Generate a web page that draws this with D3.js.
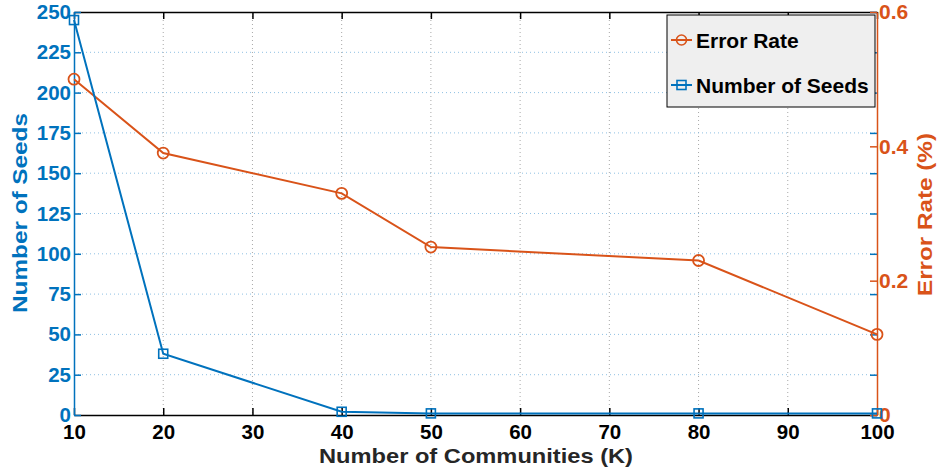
<!DOCTYPE html>
<html>
<head>
<meta charset="utf-8">
<script src="https://cdn.jsdelivr.net/npm/d3@7/dist/d3.min.js"></script>
<style>
  html, body { margin: 0; padding: 0; background: #fff; }
  svg { display: block; font-family: "Liberation Sans", Arial, sans-serif; }
</style>
</head>
<body>
<svg id="chart" width="941" height="467"></svg>
<script>
// Number of communities on the x axis
const communities = [10, 20, 40, 50, 80, 100];
// Seeds needed for each community count
const seeds = [245, 38, 2, 1, 1, 1];
// Error rate for each community count
const errorRate = [0.50, 0.39, 0.33, 0.25, 0.23, 0.12];

const xTicks = [10, 20, 30, 40, 50, 60, 70, 80, 90, 100];
const leftTicks = [0, 25, 50, 75, 100, 125, 150, 175, 200, 225, 250];
const rightTicks = [0, 0.2, 0.4, 0.6];

const blue = "#0072BD";
const orange = "#D95319";
const FONT = "Liberation Sans, Arial, sans-serif";

const margin = { left: 74, right: 64, top: 12, bottom: 52 };
const W = 941, H = 467;
const svg = d3.select("#chart");

const x = d3.scaleLinear().domain([10, 100]).range([margin.left, W - margin.right]);
const yL = d3.scaleLinear().domain([0, 250]).range([H - margin.bottom, margin.top]);
const yR = d3.scaleLinear().domain([0, 0.6]).range([H - margin.bottom, margin.top]);

const x0 = x.range()[0], x1 = x.range()[1];
const yB = yL.range()[0], yT = yL.range()[1];

// dotted grid
const grid = svg.append("g");
grid.selectAll("line.v").data(xTicks.slice(1, -1)).join("line")
  .attr("x1", d => x(d)).attr("x2", d => x(d))
  .attr("y1", yT).attr("y2", yB)
  .attr("stroke", "#a8a8a8").attr("stroke-width", 1)
  .attr("stroke-dasharray", "1,3");
grid.selectAll("line.h").data(leftTicks.slice(1, -1)).join("line")
  .attr("x1", x0).attr("x2", x1)
  .attr("y1", d => yL(d)).attr("y2", d => yL(d))
  .attr("stroke", "#8fc0e3").attr("stroke-width", 1)
  .attr("stroke-dasharray", "1,3");

// axes
const bottomAxis = d3.axisBottom(x).tickValues(xTicks).tickSizeInner(-7).tickSizeOuter(0).tickPadding(9);
const gB = svg.append("g").attr("transform", `translate(0,${yB})`).call(bottomAxis);
gB.select(".domain").attr("stroke", "#000").attr("stroke-width", 1.5);
gB.selectAll(".tick line").attr("stroke", "#000").attr("stroke-width", 1.5);
gB.selectAll(".tick text").attr("fill", "#000").attr("font-size", 20.5).attr("font-weight", "bold")
  .attr("font-family", FONT);

const topAxis = d3.axisTop(x).tickValues(xTicks).tickSizeInner(-7).tickSizeOuter(0).tickFormat("");
const gT = svg.append("g").attr("transform", `translate(0,${yT})`).call(topAxis);
gT.select(".domain").attr("stroke", "#000").attr("stroke-width", 1.5);
gT.selectAll(".tick line").attr("stroke", "#000").attr("stroke-width", 1.5);

// seed ticks repeated along the right edge
const rightMirror = d3.axisLeft(yL).tickValues(leftTicks).tickSizeInner(7).tickSizeOuter(0).tickFormat("");
const gRM = svg.append("g").attr("transform", `translate(${x1},0)`).call(rightMirror);
gRM.select(".domain").remove();
gRM.selectAll(".tick line").attr("stroke", blue).attr("stroke-width", 1.5);

const leftAxis = d3.axisLeft(yL).tickValues(leftTicks).tickSizeInner(-7).tickSizeOuter(0).tickPadding(3);
const gL = svg.append("g").attr("transform", `translate(${x0},0)`).call(leftAxis);
gL.select(".domain").attr("stroke", blue).attr("stroke-width", 1.5);
gL.selectAll(".tick line").attr("stroke", blue).attr("stroke-width", 1.5);
gL.selectAll(".tick text").attr("fill", blue).attr("font-size", 20.5).attr("font-weight", "bold")
  .attr("font-family", FONT);

const rightAxis = d3.axisRight(yR).tickValues(rightTicks).tickSizeInner(-7).tickSizeOuter(0)
  .tickPadding(2).tickFormat(d => d === 0 ? "0" : d3.format(".1f")(d));
const gR = svg.append("g").attr("transform", `translate(${x1},0)`).call(rightAxis);
gR.select(".domain").attr("stroke", orange).attr("stroke-width", 1.5);
gR.selectAll(".tick line").attr("stroke", orange).attr("stroke-width", 1.5);
gR.selectAll(".tick text").attr("fill", orange).attr("font-size", 21).attr("font-weight", "bold")
  .attr("font-family", FONT);

// axis titles (wide bold lettering)
svg.append("text")
  .attr("transform", `translate(27,213) rotate(-90)`)
  .attr("text-anchor", "middle").attr("fill", blue)
  .attr("font-size", 21).attr("font-weight", "bold")
  .attr("textLength", 200).attr("lengthAdjust", "spacingAndGlyphs")
  .text("Number of Seeds");
svg.append("text")
  .attr("transform", `translate(932,214.5) rotate(-90)`)
  .attr("text-anchor", "middle").attr("fill", orange)
  .attr("font-size", 21).attr("font-weight", "bold")
  .attr("textLength", 163).attr("lengthAdjust", "spacingAndGlyphs")
  .text("Error Rate (%)");
svg.append("text")
  .attr("x", 476).attr("y", 463)
  .attr("text-anchor", "middle").attr("fill", "#262626")
  .attr("font-size", 21).attr("font-weight", "bold")
  .attr("textLength", 314).attr("lengthAdjust", "spacingAndGlyphs")
  .text("Number of Communities (K)");

// series
const seedData = communities.map((c, i) => ({ c, v: seeds[i] }));
const errData = communities.map((c, i) => ({ c, v: errorRate[i] }));

svg.append("path").datum(errData)
  .attr("fill", "none").attr("stroke", orange).attr("stroke-width", 2)
  .attr("d", d3.line().x(d => x(d.c)).y(d => yR(d.v)));
svg.append("g").selectAll("circle").data(errData).join("circle")
  .attr("cx", d => x(d.c)).attr("cy", d => yR(d.v)).attr("r", 5.5)
  .attr("fill", "none").attr("stroke", orange).attr("stroke-width", 1.8);

svg.append("path").datum(seedData)
  .attr("fill", "none").attr("stroke", blue).attr("stroke-width", 2)
  .attr("d", d3.line().x(d => x(d.c)).y(d => yL(d.v)));
const sq = 9;
svg.append("g").selectAll("rect").data(seedData).join("rect")
  .attr("x", d => x(d.c) - sq / 2).attr("y", d => yL(d.v) - sq / 2)
  .attr("width", sq).attr("height", sq)
  .attr("fill", "none").attr("stroke", blue).attr("stroke-width", 1.6);

// legend
const lg = svg.append("g").attr("transform", "translate(667,15)");
lg.append("rect").attr("width", 208).attr("height", 92)
  .attr("fill", "#efefef").attr("stroke", "#000").attr("stroke-width", 1);
const items = [
  { label: "Error Rate", color: orange, shape: "circle", y: 25 },
  { label: "Number of Seeds", color: blue, shape: "square", y: 70 }
];
items.forEach(it => {
  const g = lg.append("g").attr("transform", `translate(0,${it.y})`);
  g.append("line").attr("x1", 4).attr("x2", 25).attr("y1", 0).attr("y2", 0)
    .attr("stroke", it.color).attr("stroke-width", 2);
  if (it.shape === "circle") {
    g.append("circle").attr("cx", 14.5).attr("cy", 0).attr("r", 5)
      .attr("fill", "none").attr("stroke", it.color).attr("stroke-width", 1.6);
  } else {
    g.append("rect").attr("x", 10).attr("y", -4.5).attr("width", 9).attr("height", 9)
      .attr("fill", "none").attr("stroke", it.color).attr("stroke-width", 1.6);
  }
  g.append("text").attr("x", 29).attr("y", 7.5)
    .attr("fill", "#000").attr("font-size", 21).attr("font-weight", "bold")
    .text(it.label);
});
</script>
</body>
</html>
